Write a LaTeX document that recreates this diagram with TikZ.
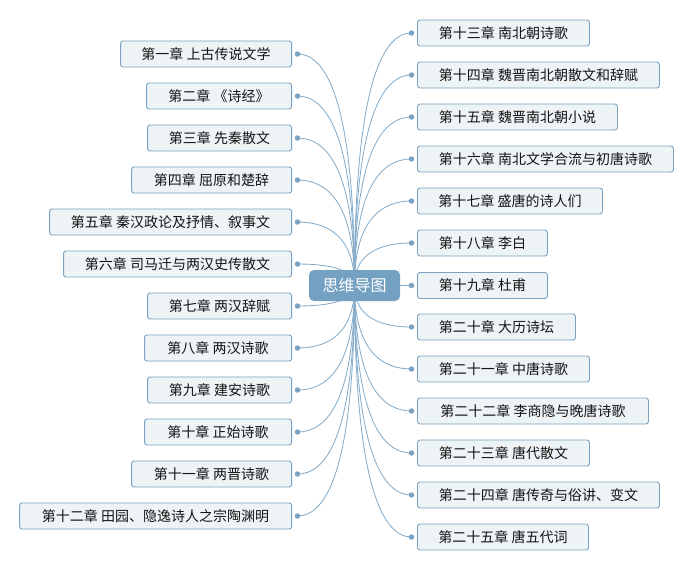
\documentclass[tikz,border=0pt]{standalone}
\usepackage{fontspec}
\setmainfont{Noto Sans CJK SC}
\usetikzlibrary{calc}
\definecolor{boxline}{HTML}{7AA2C2}
\definecolor{boxfill}{HTML}{EEF3F6}
\definecolor{mainfill}{HTML}{74A1C2}
\definecolor{conncol}{HTML}{86ACCA}
\definecolor{txt}{HTML}{141414}
\pgfdeclarelayer{background}
\pgfsetlayers{background,main}
\begin{document}
\begin{tikzpicture}[x=1pt,y=-1pt,
  chapbox/.style={draw=boxline,fill=boxfill,line width=0.9pt,rounded corners=2.5pt,
    minimum height=26pt,inner sep=0pt,text=txt,font=\fontsize{14}{15}\selectfont},
  rootbox/.style={fill=mainfill,rounded corners=5pt,minimum width=91pt,minimum height=31pt,
    inner sep=0pt,text=white,font=\fontsize{16}{17}\selectfont},
  dotnode/.style={circle,fill=boxline,inner sep=0pt,minimum size=5.5pt},
  conn/.style={draw=conncol,line width=0.85pt}]
\useasboundingbox (0,0) rectangle (694,571);
\node[rootbox] (root) at (354.5,285.5) {思维导图};
\coordinate (c) at (354.5,285.5);
% left side
\foreach \i/\y/\w/\t in {
 1/54/171/第一章 上古传说文学,
 2/96/145/第二章 《诗经》,
 3/138/144/第三章 先秦散文,
 4/180/160/第四章 屈原和楚辞,
 5/222/242/第五章 秦汉政论及抒情、叙事文,
 6/264/228/第六章 司马迁与两汉史传散文,
 7/306/144/第七章 两汉辞赋,
 8/348/147/第八章 两汉诗歌,
 9/390/144/第九章 建安诗歌,
 10/432/147/第十章 正始诗歌,
 11/474/160/第十一章 两晋诗歌,
 12/516/272/第十二章 田园、隐逸诗人之宗陶渊明}{
  \node[chapbox,anchor=east,minimum width=\w pt] (n\i) at (292,\y) {\t};
  \node[dotnode] (d\i) at (297.5,\y) {};
  \begin{pgfonlayer}{background}
  \draw[conn] (c) .. controls ($(c)!0.8!(c|-d\i)$) and ($(d\i.center)!0.5!(d\i.center-|c)$) .. (d\i.center);
  \end{pgfonlayer}
}
% right side
\foreach \i/\y/\w/\t in {
 13/33/172/第十三章 南北朝诗歌,
 14/75/242/第十四章 魏晋南北朝散文和辞赋,
 15/117/200/第十五章 魏晋南北朝小说,
 16/159/256/第十六章 南北文学合流与初唐诗歌,
 17/201/185/第十七章 盛唐的诗人们,
 18/243/130/第十八章 李白,
 19/285.5/130/第十九章 杜甫,
 20/327/158/第二十章 大历诗坛,
 21/369/172/第二十一章 中唐诗歌,
 22/411/231/第二十二章 李商隐与晚唐诗歌,
 23/453/172/第二十三章 唐代散文,
 24/495/242/第二十四章 唐传奇与俗讲、变文,
 25/537/171/第二十五章 唐五代词}{
  \node[chapbox,anchor=west,minimum width=\w pt] (n\i) at (417,\y) {\t};
  \node[dotnode] (d\i) at (411.5,\y) {};
  \begin{pgfonlayer}{background}
  \draw[conn] (c) .. controls ($(c)!0.8!(c|-d\i)$) and ($(d\i.center)!0.5!(d\i.center-|c)$) .. (d\i.center);
  \end{pgfonlayer}
}
\end{tikzpicture}
\end{document}
